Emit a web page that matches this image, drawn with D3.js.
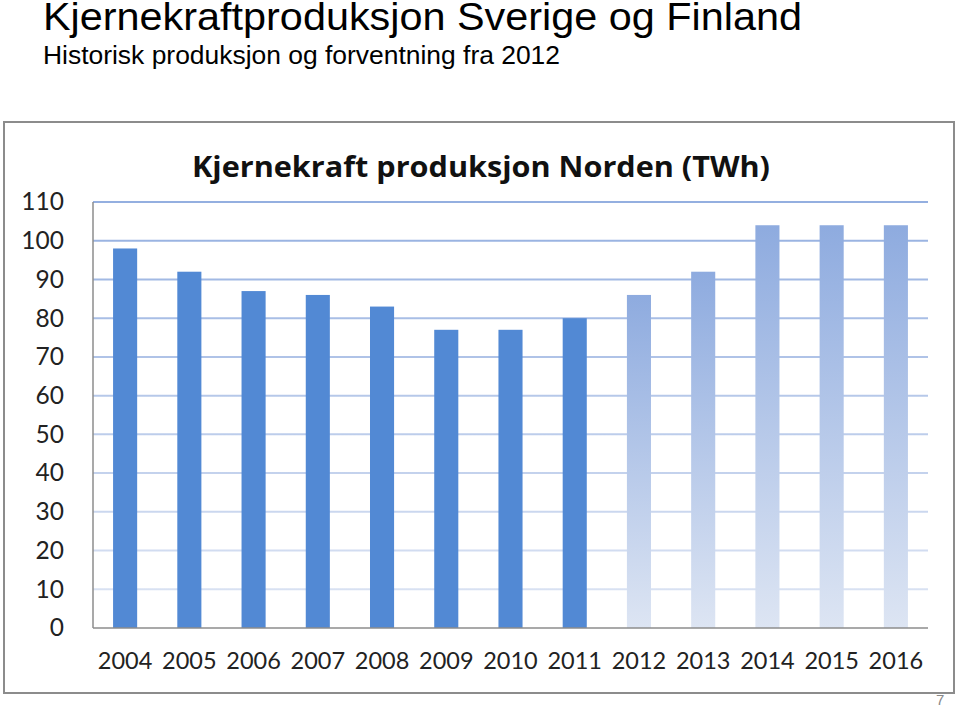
<!DOCTYPE html>
<html><head><meta charset="utf-8">
<script src="https://cdn.jsdelivr.net/npm/d3@7"></script>
<style>body{margin:0;background:#fff;} svg{display:block;}</style>
</head><body>
<script>
const years = ["2004","2005","2006","2007","2008","2009","2010","2011","2012","2013","2014","2015","2016"];
const production = [98,92,87,86,83,77,77,80,86,92,104,104,104];
const forecastFrom = "2012";
const yTicks = [0,10,20,30,40,50,60,70,80,90,100,110];
const pageTitle = "Kjernekraftproduksjon Sverige og Finland";
const pageSubtitle = "Historisk produksjon og forventning fra 2012";
const chartTitle = "Kjernekraft produksjon Norden (TWh)";

const W = 960, H = 707;
const svg = d3.select("body").append("svg").attr("width", W).attr("height", H);
const defs = svg.append("defs");

const plot = {left: 93, right: 928, top: 202, bottom: 628};
const x = d3.scaleBand().domain(years).range([plot.left, plot.right]).paddingInner(0.625).paddingOuter(0.3125);
const y = d3.scaleLinear().domain([0,110]).range([plot.bottom, plot.top]);

// gradients
const fg = defs.append("linearGradient").attr("id","fc").attr("x1",0).attr("y1",0).attr("x2",0).attr("y2",1);
fg.append("stop").attr("offset","0%").attr("stop-color","#8eabdf");
fg.append("stop").attr("offset","100%").attr("stop-color","#dde5f3");
const gg = defs.append("linearGradient").attr("id","grid").attr("gradientUnits","userSpaceOnUse")
  .attr("x1",0).attr("y1",plot.top).attr("x2",0).attr("y2",plot.bottom);
gg.append("stop").attr("offset","0%").attr("stop-color","#94afe0");
gg.append("stop").attr("offset","100%").attr("stop-color","#dfe6f4");

// page titles
svg.append("text").attr("x",43).attr("y",30).attr("font-family","Liberation Sans, Arial, sans-serif")
  .attr("font-size",38).attr("fill","#000").attr("textLength",759).attr("lengthAdjust","spacingAndGlyphs").text(pageTitle);
svg.append("text").attr("x",43).attr("y",64).attr("font-family","Liberation Sans, Arial, sans-serif")
  .attr("font-size",26).attr("fill","#000").attr("textLength",517).attr("lengthAdjust","spacingAndGlyphs").text(pageSubtitle);

// chart frame
svg.append("rect").attr("x",4).attr("y",122).attr("width",950).attr("height",571)
  .attr("fill","#fff").attr("stroke","#8c8c8c").attr("stroke-width",2);

svg.append("text").attr("x",481).attr("y",177).attr("text-anchor","middle")
  .attr("font-family","Open Sans, Lato, sans-serif").attr("font-weight","bold").attr("font-size",29)
  .attr("fill","#111").attr("textLength",578).attr("lengthAdjust","spacingAndGlyphs").text(chartTitle);

// gridlines
svg.append("g").selectAll("line").data(yTicks.filter(d=>d>0)).join("line")
  .attr("x1",plot.left).attr("x2",plot.right).attr("y1",d=>y(d)).attr("y2",d=>y(d))
  .attr("stroke","url(#grid)").attr("stroke-width",2);

// bars
const fi = years.indexOf(forecastFrom);
svg.append("g").selectAll("rect").data(years).join("rect")
  .attr("x",d=>x(d)).attr("width",x.bandwidth())
  .attr("y",(d,i)=>y(production[i])).attr("height",(d,i)=>y(0)-y(production[i]))
  .attr("fill",(d,i)=> i>=fi ? "url(#fc)" : "#5289d4");

// axes lines
svg.append("line").attr("x1",plot.left).attr("x2",plot.left).attr("y1",plot.top).attr("y2",plot.bottom)
  .attr("stroke","#8c8c8c").attr("stroke-width",1.5);
svg.append("line").attr("x1",plot.left).attr("x2",plot.right).attr("y1",plot.bottom).attr("y2",plot.bottom)
  .attr("stroke","#8c8c8c").attr("stroke-width",1.5);

// y labels
const yAxis = d3.axisLeft(y).tickValues(yTicks).tickSize(0).tickPadding(29);
const ya = svg.append("g").attr("transform",`translate(${plot.left},0)`).call(yAxis);
ya.select(".domain").remove();
ya.selectAll("text").attr("font-family","Lato, Open Sans, sans-serif").attr("font-size",24.5).attr("fill","#222");

// x labels
const xAxis = d3.axisBottom(x).tickSize(0).tickPadding(24);
const xa = svg.append("g").attr("transform",`translate(0,${plot.bottom})`).call(xAxis);
xa.select(".domain").remove();
xa.selectAll("text").attr("font-family","Lato, Open Sans, sans-serif").attr("font-size",23.5).attr("fill","#222");

svg.append("text").attr("x",936).attr("y",705).attr("font-family","Liberation Sans, Arial, sans-serif")
  .attr("font-size",15).attr("fill","#888").text("7");
</script>
</body></html>
